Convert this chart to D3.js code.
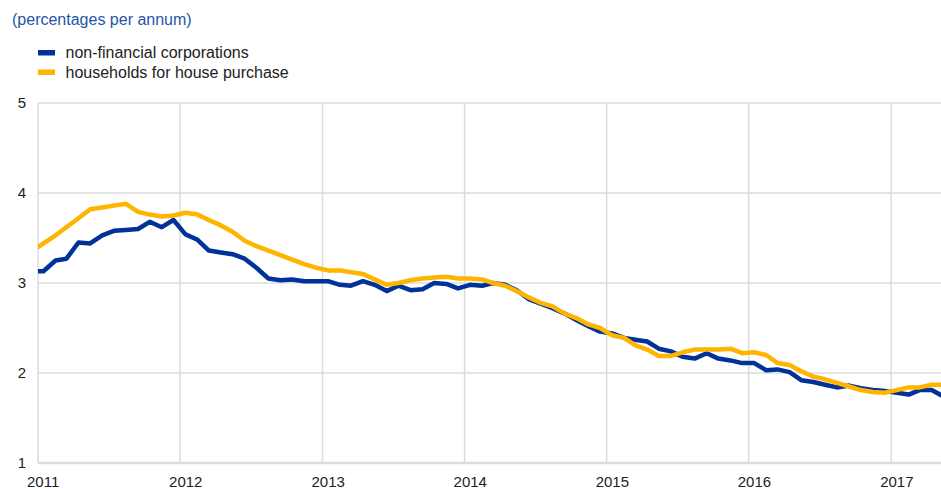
<!DOCTYPE html>
<html>
<head>
<meta charset="utf-8">
<script src="https://cdn.jsdelivr.net/npm/d3@7"></script>
<style>
    body { margin: 0; background: #fff; }
    svg { font-family: Arial, "Liberation Sans", sans-serif; }
    .grid line { stroke: #dcdcdc; stroke-width: 1.5; }
</style>
</head>
<body>
<div id="chart"></div>
<script>
// monthly values, Dec 2010 .. May 2017 (mid-month)
var startMonth = new Date(2010, 11, 15);

var nfc = [
    3.13,
    3.13, 3.25, 3.27, 3.45, 3.44, 3.53, 3.58, 3.59, 3.60, 3.68, 3.62, 3.70,
    3.54, 3.48, 3.36, 3.34, 3.32, 3.27, 3.17, 3.05, 3.03, 3.04, 3.02, 3.02,
    3.02, 2.98, 2.97, 3.02, 2.98, 2.91, 2.97, 2.92, 2.93, 3.00, 2.99, 2.94,
    2.98, 2.97, 3.00, 2.98, 2.92, 2.82, 2.77, 2.72, 2.66, 2.59, 2.52, 2.46,
    2.44, 2.39, 2.37, 2.35, 2.27, 2.24, 2.18, 2.16, 2.22, 2.16, 2.14, 2.11,
    2.11, 2.03, 2.04, 2.01, 1.92, 1.90, 1.87, 1.84, 1.86, 1.83, 1.81, 1.80,
    1.78, 1.76, 1.81, 1.81, 1.74
];

var housePurchase = [
    3.35,
    3.44, 3.53, 3.62, 3.72, 3.82, 3.84, 3.86, 3.88, 3.79, 3.76, 3.74, 3.75,
    3.78, 3.76, 3.70, 3.64, 3.57, 3.47, 3.41, 3.36, 3.31, 3.26, 3.21, 3.17,
    3.14, 3.14, 3.12, 3.10, 3.04, 2.98, 3.00, 3.03, 3.05, 3.06, 3.07, 3.05,
    3.05, 3.04, 3.00, 2.97, 2.91, 2.84, 2.78, 2.74, 2.66, 2.61, 2.54, 2.50,
    2.42, 2.39, 2.31, 2.26, 2.19, 2.19, 2.23, 2.26, 2.26, 2.26, 2.27, 2.22,
    2.23, 2.20, 2.11, 2.09, 2.02, 1.96, 1.93, 1.89, 1.85, 1.81, 1.79, 1.78,
    1.81, 1.84, 1.84, 1.87, 1.87
];

var seriesNames = ["non-financial corporations", "households for house purchase"];
var seriesColors = ["#003299", "#ffb400"];
var yearTicks = [2011, 2012, 2013, 2014, 2015, 2016, 2017];
var yTicks = [1, 2, 3, 4, 5];

var width = 941, height = 489;
var margin = { top: 103, right: 0, bottom: 26, left: 38 };

var svg = d3.select("#chart").append("svg")
    .attr("width", width)
    .attr("height", height);

var x = d3.scaleTime()
    .domain([new Date(2011, 0, 1), new Date(2017, 4, 9)])
    .range([margin.left, width - margin.right]);

var y = d3.scaleLinear()
    .domain([1, 5])
    .range([height - margin.bottom, margin.top]);

// title
svg.append("text")
    .attr("x", 12)
    .attr("y", 25)
    .attr("fill", "#2554a8")
    .style("font-size", "16px")
    .text("(percentages per annum)");

// legend
var legend = svg.selectAll(".legend")
    .data(seriesNames)
    .enter().append("g")
    .attr("class", "legend")
    .attr("transform", function (d, i) { return "translate(38," + (50 + i * 19.5) + ")"; });

legend.append("rect")
    .attr("width", 17)
    .attr("height", 5.5)
    .attr("fill", function (d, i) { return seriesColors[i]; });

legend.append("text")
    .attr("x", 27.5)
    .attr("y", 8)
    .style("font-size", "16px")
    .attr("fill", "#222")
    .text(function (d) { return d; });

// grid lines
var grid = svg.append("g").attr("class", "grid");

grid.selectAll(".hline")
    .data(yTicks)
    .enter().append("line")
    .attr("x1", margin.left)
    .attr("x2", width - margin.right)
    .attr("y1", function (d) { return y(d); })
    .attr("y2", function (d) { return y(d); })
    .style("stroke-width", function (d) { return d == 1 ? 2.5 : 1.5; });

grid.selectAll(".vline")
    .data(yearTicks)
    .enter().append("line")
    .attr("x1", function (d) { return x(new Date(d, 0, 1)); })
    .attr("x2", function (d) { return x(new Date(d, 0, 1)); })
    .attr("y1", y(5))
    .attr("y2", y(1));

// axes labels
svg.selectAll(".ylab")
    .data(yTicks)
    .enter().append("text")
    .attr("x", 26)
    .attr("y", function (d) { return y(d) + 5; })
    .style("text-anchor", "end")
    .style("font-size", "15px")
    .attr("fill", "#222")
    .text(function (d) { return d; });

svg.selectAll(".xlab")
    .data(yearTicks)
    .enter().append("text")
    .attr("x", function (d) { return x(new Date(d, 0, 1)) - 11; })
    .attr("y", 487)
    .style("font-size", "15px")
    .attr("fill", "#222")
    .text(function (d) { return d; });

// clip lines to plot area
svg.append("clipPath")
    .attr("id", "plotClip")
    .append("rect")
    .attr("x", margin.left)
    .attr("y", 0)
    .attr("width", width - margin.left - margin.right)
    .attr("height", height);

function monthDate(i) {
    return new Date(startMonth.getFullYear(), startMonth.getMonth() + i, 15);
}

var line = d3.line()
    .x(function (d, i) { return x(monthDate(i)); })
    .y(function (d) { return y(d); });

svg.append("g")
    .attr("clip-path", "url(#plotClip)")
    .selectAll(".series")
    .data([nfc, housePurchase])
    .enter().append("path")
    .attr("fill", "none")
    .attr("stroke", function (d, i) { return seriesColors[i]; })
    .attr("stroke-width", 4.5)
    .attr("stroke-linejoin", "round")
    .attr("d", line);
</script>
</body>
</html>
